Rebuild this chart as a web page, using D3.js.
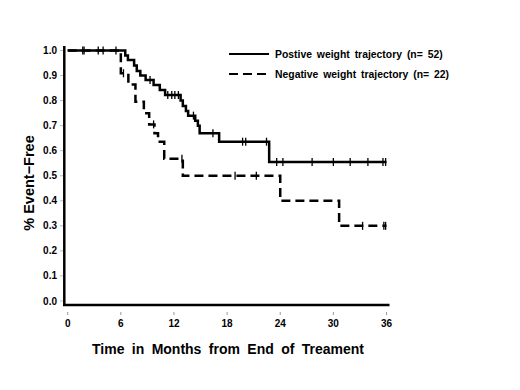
<!DOCTYPE html>
<html>
<head>
<meta charset="utf-8">
<script src="https://cdn.jsdelivr.net/npm/d3@7"></script>
<style>
  body { margin: 0; background: #fff; }
  svg { display: block; font-family: "Liberation Sans", Arial, sans-serif; }
</style>
</head>
<body>
<svg id="chart" width="520" height="390"></svg>
<script>
// positive weight trajectory (n=52) - step times (months) and survival
const posTime = [0, 6.5, 6.8, 7.5, 7.8, 8.2, 8.8, 9.7, 10.4, 11.0, 12.75, 13.0, 13.35, 13.6, 14.4, 14.7, 14.9, 17.1, 22.75, 36]
const posSurv = [1.0, 0.98, 0.962, 0.94, 0.918, 0.90, 0.882, 0.862, 0.842, 0.822, 0.80, 0.778, 0.758, 0.74, 0.72, 0.70, 0.67, 0.636, 0.555, 0.555]
const posCensor = [1.7, 1.85, 3.45, 4.0, 5.45, 9.3, 11.3, 11.75, 12.1, 12.5, 14.2, 16.4, 19.75, 20.1, 22.45, 23.6, 24.3, 27.6, 30.0, 31.9, 33.9, 35.6, 35.9]

// negative weight trajectory (n=22)
const negTime = [0, 6.0, 6.85, 7.65, 8.6, 9.2, 9.8, 10.2, 10.9, 13.0, 24.0, 30.65, 36]
const negSurv = [1.0, 0.909, 0.864, 0.795, 0.75, 0.705, 0.67, 0.636, 0.568, 0.5, 0.4, 0.3, 0.3]
const negCensor = [6.3, 9.7, 12.9, 18.9, 21.3, 33.3, 35.7, 35.9]

const xTicks = [0, 6, 12, 18, 24, 30, 36]
const yTicks = [0, 0.1, 0.2, 0.3, 0.4, 0.5, 0.6, 0.7, 0.8, 0.9, 1.0]

const legendLabels = ["Postive weight trajectory (n= 52)", "Negative weight trajectory (n= 22)"]

let svg = d3.select("#chart")

let x = d3.scaleLinear().domain([0, 36]).range([67.7, 386.5])
let y = d3.scaleLinear().domain([0, 1]).range([301, 50.5])

// survival value at time t (step function)
const survAt = (times, surv, t) => {
    let i = d3.bisectRight(times, t) - 1
    return surv[Math.max(0, i)]
}

// axes lines
svg.append("line")
    .attr("x1", 64.3).attr("x2", 64.3)
    .attr("y1", 46).attr("y2", 306)
    .attr("stroke", "#000").attr("stroke-width", 2.5)

svg.append("line")
    .attr("x1", 63).attr("x2", 389.5)
    .attr("y1", 305).attr("y2", 305)
    .attr("stroke", "#000").attr("stroke-width", 2.5)

// x ticks + labels
let xg = svg.append("g")
xg.selectAll("line").data(xTicks).enter().append("line")
    .attr("x1", d => x(d)).attr("x2", d => x(d))
    .attr("y1", 312).attr("y2", 315)
    .attr("stroke", "#999").attr("stroke-width", 1)
xg.selectAll("text").data(xTicks).enter().append("text")
    .attr("x", d => x(d))
    .attr("y", 327)
    .attr("text-anchor", "middle")
    .attr("font-size", 10)
    .attr("font-weight", "bold")
    .text(d => d)

// y ticks + labels
let yg = svg.append("g")
yg.selectAll("line").data(yTicks).enter().append("line")
    .attr("x1", 60).attr("x2", 63)
    .attr("y1", d => y(d)).attr("y2", d => y(d))
    .attr("stroke", "#bbb").attr("stroke-width", 1)
yg.selectAll("text").data(yTicks).enter().append("text")
    .attr("x", 57)
    .attr("y", d => y(d) + 3.5)
    .attr("text-anchor", "end")
    .attr("font-size", 10)
    .attr("font-weight", "bold")
    .text(d => d.toFixed(1))

// axis titles
svg.append("text")
    .attr("transform", "translate(34,183) rotate(-90)")
    .attr("text-anchor", "middle")
    .attr("font-size", 14.5)
    .attr("font-weight", "bold")
    .text("% Event\u2212Free")

svg.append("text")
    .attr("x", 228)
    .attr("y", 354)
    .attr("text-anchor", "middle")
    .attr("font-size", 14)
    .attr("font-weight", "bold")
    .attr("word-spacing", 3.5)
    .text("Time in Months from End of Treament")

// curves
let stepLine = d3.line()
    .x(d => x(d[0]))
    .y(d => y(d[1]))
    .curve(d3.curveStepAfter)

svg.append("path")
    .datum(d3.zip(posTime, posSurv))
    .attr("fill", "none")
    .attr("stroke", "#000")
    .attr("stroke-width", 2.5)
    .attr("d", stepLine)

svg.append("path")
    .datum(d3.zip(negTime, negSurv))
    .attr("fill", "none")
    .attr("stroke", "#000")
    .attr("stroke-width", 2.5)
    .attr("stroke-dasharray", "9,5")
    .attr("d", stepLine)

// censor marks
const drawCensor = (times, surv, cens) => {
    svg.append("g").selectAll("line").data(cens).enter().append("line")
        .attr("x1", d => x(d)).attr("x2", d => x(d))
        .attr("y1", d => y(survAt(times, surv, d)) - 4)
        .attr("y2", d => y(survAt(times, surv, d)) + 4)
        .attr("stroke", "#000")
        .attr("stroke-width", 1.3)
}
drawCensor(posTime, posSurv, posCensor)
drawCensor(negTime, negSurv, negCensor)

// legend
let lg = svg.append("g")
lg.selectAll("line").data(legendLabels).enter().append("line")
    .attr("x1", 229).attr("x2", 269)
    .attr("y1", (d, i) => 54 + i * 20)
    .attr("y2", (d, i) => 54 + i * 20)
    .attr("stroke", "#000")
    .attr("stroke-width", 2)
    .attr("stroke-dasharray", (d, i) => i == 0 ? null : "9,5")
lg.selectAll("text").data(legendLabels).enter().append("text")
    .attr("x", 275)
    .attr("y", (d, i) => 58 + i * 20)
    .attr("font-size", 10.4)
    .attr("font-weight", "bold")
    .attr("word-spacing", 2)
    .text(d => d)
</script>
</body>
</html>
